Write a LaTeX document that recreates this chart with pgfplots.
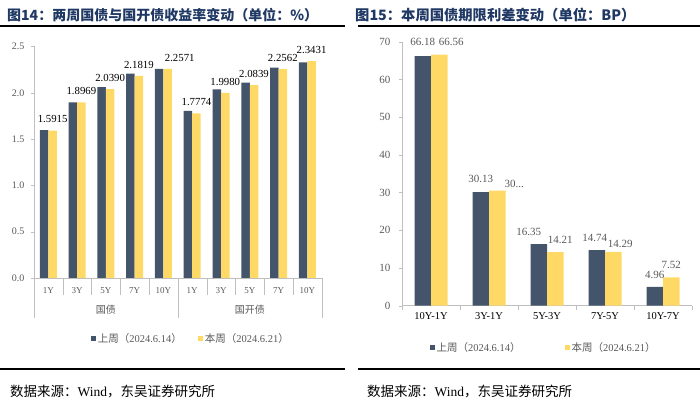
\documentclass[border=0pt]{standalone}
\usepackage{fontspec}
\setmainfont{Liberation Serif}
\newfontfamily\cjk{Noto Sans CJK SC}
\usepackage{pgfplots}
\pgfplotsset{compat=1.18}
\definecolor{navy}{HTML}{44546A}
\definecolor{gold}{HTML}{FFD966}
\definecolor{titleblue}{HTML}{1F3864}
\definecolor{tickgray}{HTML}{595959}
\definecolor{axgray}{HTML}{BFBFBF}
\begin{document}
\begin{tikzpicture}
\path[use as bounding box] (0pt,0pt) rectangle (700pt,401pt);
% titles and rules
\node[anchor=west, font=\cjk\bfseries\fontsize{14}{15}\selectfont, text=titleblue, inner sep=0pt] at (7pt,386pt) {图14：两周国债与国开债收益率变动（单位：\%）};
\node[anchor=west, font=\cjk\bfseries\fontsize{14.3}{15}\selectfont, text=titleblue, inner sep=0pt] at (355pt,386pt) {图15：本周国债期限利差变动（单位：BP）};
\draw[line width=2pt] (0pt,374.5pt) -- (345pt,374.5pt);
\draw[line width=2pt] (358pt,374.5pt) -- (700pt,374.5pt);
\draw[line width=2pt] (0pt,32pt) -- (345pt,32pt);
\draw[line width=2pt] (358pt,32pt) -- (700pt,32pt);
\node[anchor=west, font=\fontsize{13.5}{14}\selectfont, inner sep=0pt] at (10pt,9pt) {{\cjk 数据来源：}Wind{\cjk ，东吴证券研究所}};
\node[anchor=west, font=\fontsize{13.5}{14}\selectfont, inner sep=0pt] at (367pt,9pt) {{\cjk 数据来源：}Wind{\cjk ，东吴证券研究所}};

% left chart
\begin{axis}[
  at={(34pt,123pt)}, anchor=south west,
  width=287.7pt, height=231.5pt, scale only axis,
  xmin=-0.5, xmax=9.5, ymin=0, ymax=2.5,
  clip=false,
  axis x line*=bottom, axis y line*=left,
  axis line style={axgray},
  ybar=0pt, bar width=8.5pt,
  ytick={0,0.5,1,1.5,2,2.5},
  yticklabel style={/pgf/number format/fixed, /pgf/number format/fixed zerofill, /pgf/number format/precision=1, /pgf/number format/assume math mode=true, font=\fontsize{10}{11}\selectfont, text=tickgray, xshift=-3pt},
  xtick={0,...,9},
  xticklabels={1Y,3Y,5Y,7Y,10Y,1Y,3Y,5Y,7Y,10Y},
  xticklabel style={font=\fontsize{9}{10}\selectfont, text=tickgray, yshift=-3pt},
  major x tick style={draw=none},
  minor xtick={-0.5,0.5,...,9.5},
  minor x tick style={axgray},
  minor tick length=17pt,
  major tick length=3pt,
  tick align=outside,
  ytick style={axgray},
  legend style={at={(0.545,-0.263)}, anchor=center, draw=none, fill=none,
    font=\fontsize{10.5}{11}\selectfont, text=tickgray, legend columns=2,
    /tikz/every even column/.style={column sep=14pt}},
]
\addplot[fill=navy, draw=none,
  legend image code/.code={\fill[navy] (0pt,-2.5pt) rectangle (5pt,2.5pt);}]
  coordinates {(0,1.5960) (1,1.8973) (2,2.0608) (3,2.2082) (4,2.2578)
               (5,1.8060) (6,2.0360) (7,2.1090) (8,2.2710) (9,2.3280)};
\addlegendentry{{\cjk 上周（}2024.6.14{\cjk ）}}
\addplot[fill=gold, draw=none,
  legend image code/.code={\fill[gold] (0pt,-2.5pt) rectangle (5pt,2.5pt);},
  point meta=explicit symbolic,
  visualization depends on={value \thisrow{dx}\as\dx},
  nodes near coords,
  every node near coord/.append style={font=\fontsize{10.8}{11}\selectfont, text=black, inner sep=0pt, yshift=7.5pt, xshift=\dx pt}]
  table[x=x, y=y, meta=lab] {
x y lab dx
0 1.5915 1.5915 0
1 1.8969 1.8969 0
2 2.0390 2.0390 0
3 2.1819 2.1819 0
4 2.2571 2.2571 12
5 1.7774 1.7774 0
6 1.9980 1.9980 0
7 2.0839 2.0839 0
8 2.2562 2.2562 0
9 2.3431 2.3431 0
};
\addlegendentry{{\cjk 本周（}2024.6.21{\cjk ）}}
\draw[axgray] (axis cs:-0.5,0) -- ++(0pt,-40pt);
\draw[axgray] (axis cs:4.5,0) -- ++(0pt,-40pt);
\draw[axgray] (axis cs:9.5,0) -- ++(0pt,-40pt);
\node[font=\cjk\fontsize{10}{11}\selectfont, text=tickgray] at (axis cs:2,0) [yshift=-32pt] {国债};
\node[font=\cjk\fontsize{10}{11}\selectfont, text=tickgray] at (axis cs:7,0) [yshift=-32pt] {国开债};
\end{axis}

% right chart
\begin{axis}[
  at={(402pt,95.3pt)}, anchor=south west,
  width=290pt, height=264pt, scale only axis,
  xmin=-0.5, xmax=4.5, ymin=0, ymax=70,
  clip=false,
  axis x line*=bottom, axis y line*=left,
  axis line style={axgray},
  ybar=0pt, bar width=16.5pt,
  ytick={0,10,...,70},
  yticklabel style={/pgf/number format/assume math mode=true, font=\fontsize{11}{12}\selectfont, text=tickgray, xshift=-5pt},
  xtick={0,...,4},
  xticklabels={10Y-1Y,3Y-1Y,5Y-3Y,7Y-5Y,10Y-7Y},
  xticklabel style={font=\fontsize{10.5}{12}\selectfont, text=black},
  major x tick style={draw=none},
  minor xtick={-0.5,0.5,...,4.5},
  minor x tick style={axgray},
  minor tick length=4pt,
  ytick style={axgray},
  major tick length=3pt,
  tick align=outside,
  legend style={at={(0.488,-0.159)}, anchor=center, draw=none, fill=none,
    font=\fontsize{10.5}{11}\selectfont, text=tickgray, legend columns=2,
    /tikz/every even column/.style={column sep=42pt}},
  point meta=explicit symbolic,
  visualization depends on={value \thisrow{dx}\as\dx},
  visualization depends on={value \thisrow{dy}\as\dy},
  nodes near coords,
  every node near coord/.append style={font=\fontsize{11}{12}\selectfont, text=tickgray, inner sep=0pt, xshift=\dx pt, yshift=\dy pt},
]
\addplot[fill=navy, draw=none,
  legend image code/.code={\fill[navy] (0pt,-2.5pt) rectangle (5pt,2.5pt);}]
  table[x=x, y=y, meta=lab] {
x y lab dx dy
0 66.18 66.18 0 10
1 30.13 30.13 0 9.4
2 16.35 16.35 -10 7.8
3 14.74 14.74 -2 8.2
4 4.96 4.96 0 8.4
};
\addlegendentry{{\cjk 上周（}2024.6.14{\cjk ）}}
\addplot[fill=gold, draw=none,
  legend image code/.code={\fill[gold] (0pt,-2.5pt) rectangle (5pt,2.5pt);}]
  table[x=x, y=y, meta=lab] {
x y lab dx dy
0 66.56 66.56 12 8.4
1 30.54 30... 17 2.4
2 14.21 14.21 5 8.4
3 14.29 14.29 7 4.4
4 7.52 7.52 0 8.4
};
\addlegendentry{{\cjk 本周（}2024.6.21{\cjk ）}}
\end{axis}
\end{tikzpicture}
\end{document}
